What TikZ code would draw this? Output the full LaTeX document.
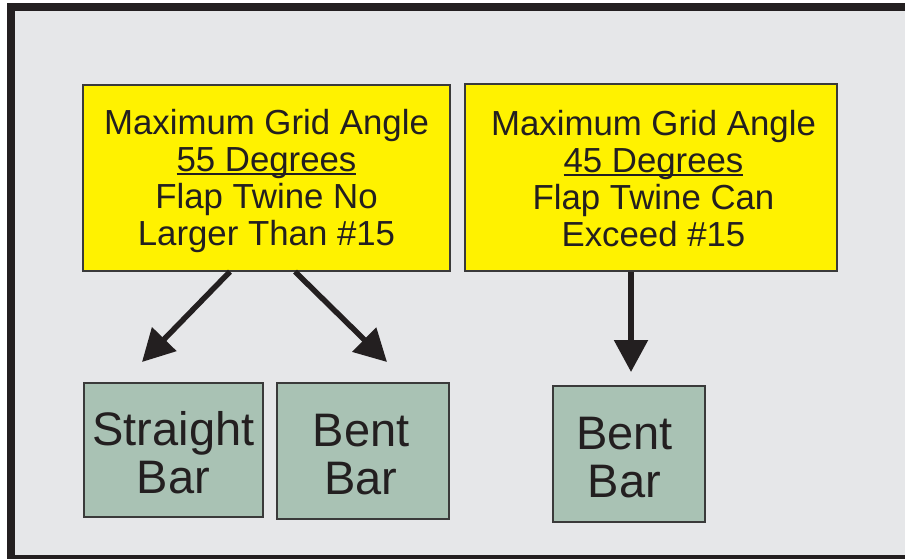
\documentclass[tikz,border=0pt]{standalone}
\usepackage{fontspec}
\setmainfont{Liberation Sans}
\usetikzlibrary{arrows.meta}
\definecolor{bgray}{HTML}{E6E7E9}
\definecolor{frameblk}{HTML}{231F20}
\definecolor{ybox}{HTML}{FFF200}
\definecolor{gbox}{HTML}{A9C2B4}
\definecolor{edgegray}{HTML}{3A3A3A}
\newcommand\myul[1]{\setbox0\hbox{#1}\rlap{\rule[-3.5pt]{\wd0}{1.8pt}}\box0}
\newcommand\ystrut{\rule{0pt}{31.5pt}}
\newcommand\ystrutb{\rule{0pt}{27pt}}
\newcommand\gstrut{\rule{0pt}{40pt}}
\tikzset{
  ybx/.style={draw=edgegray, line width=1.2pt, fill=ybox, inner sep=0pt, align=center,
    text=frameblk, font=\fontsize{34.8}{37}\selectfont},
  gbx/.style={draw=edgegray, line width=1.2pt, fill=gbox, inner sep=0pt, align=center,
    text=frameblk, font=\fontsize{47}{48}\selectfont},
  arr/.style={draw=frameblk, line width=5.5pt, -{Triangle[length=32pt,width=33pt]}},
}
\begin{document}
\begin{tikzpicture}[x=1pt,y=-1pt]
\useasboundingbox (0,0) rectangle (905,559);
\clip (0,0) rectangle (905,559);
\fill[white] (0,0) rectangle (905,559);
\draw[line width=8pt, draw=frameblk, fill=bgray] (11,7.5) rectangle (925,558.5);

\node[ybx, minimum width=367pt, minimum height=186pt] (y1) at (266.5,178)
  {\ystrut Maximum Grid Angle\\\myul{55 Degrees}\\Flap Twine No\\Larger Than \#15};
\node[ybx, minimum width=372pt, minimum height=187pt] (y2) at (651,177.5)
  {\ystrutb\hspace*{5pt}Maximum Grid Angle\\\hspace*{5pt}\myul{45 Degrees}\\\hspace*{5pt}Flap Twine Can\\\hspace*{5pt}Exceed \#15};

\node[gbx, minimum width=179pt, minimum height=134pt] (g1) at (173.5,450) {\gstrut Straight\\Bar};
\node[gbx, minimum width=172pt, minimum height=136pt] (g2) at (363,451) {\gstrut Bent\hspace*{4pt}\\Bar\hspace*{4pt}};
\node[gbx, minimum width=152pt, minimum height=136pt] (g3) at (629,454) {\gstrut Bent\hspace*{9pt}\\Bar\hspace*{9pt}};

\coordinate (s1) at (y1.south -| 230,0);
\coordinate (s2) at (y1.south -| 295,0);
\coordinate (s3) at (y2.south -| 631,0);
\coordinate (t1) at (142,362);
\coordinate (t2) at (387,362);
\coordinate (t3) at (631,372);
\draw[arr] (s1) -- (t1);
\draw[arr] (s2) -- (t2);
\draw[arr] (s3) -- (t3);
\end{tikzpicture}
\end{document}
